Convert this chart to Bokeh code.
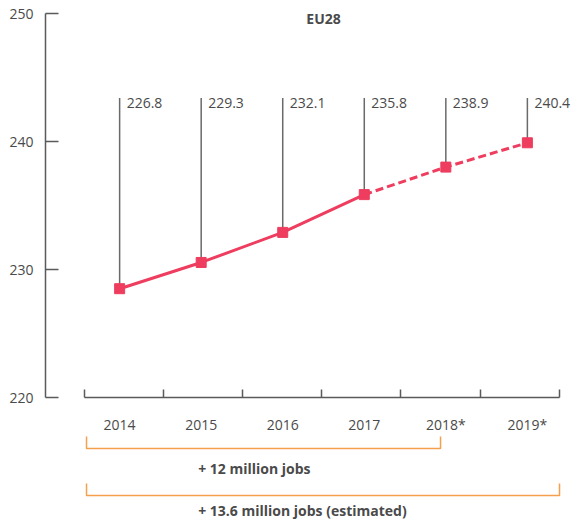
from bokeh.plotting import figure
from bokeh.models import FixedTicker, Range1d
from bokeh.core.properties import value
from bokeh.embed import file_html
from bokeh.resources import INLINE

# ---- data ----
years = ["2014", "2015", "2016", "2017", "2018*", "2019*"]
employment = [228.5, 230.55, 232.9, 235.85, 238.0, 239.9]   # plotted (millions)
value_labels = ["226.8", "229.3", "232.1", "235.8", "238.9", "240.4"]
y_ticks = [220, 230, 240, 250]
chart_title = "EU28"
bracket_texts = ["+ 12 million jobs", "+ 13.6 million jobs (estimated)"]
bracket_end_index = [4, 5]
estimate_start = 3  # series becomes dashed after 2017

# ---- layout constants (positions / styles) ----
FONT = "Open Sans"
TXT = "#4a4a4a"
AXIS = "#5a5a5a"
RED = "#ee3d5e"
ORANGE = "#f5a04c"
LABEL_TOP = 243.4
BR_Y = [216.02, 212.34]
BR_TOP = [216.95, 213.28]
BR_TEXT_Y = [214.45, 211.2]
BR_X0 = -0.406
BR_X1_OFF = [-0.065, 0.394]
BOUNDARY_TICKS = [-0.431, 0.538, 1.506, 2.475, 3.444, 4.425, 5.394]

x = list(range(len(years)))

p = figure(width=571, height=521,
           x_range=Range1d(-0.909, 5.541), y_range=Range1d(210.3125, 250),
           toolbar_location=None, output_backend="svg",
           min_border_left=45, min_border_right=0, min_border_top=13, min_border_bottom=0)
p.outline_line_color = None
p.xgrid.visible = False
p.ygrid.visible = False
p.background_fill_color = "white"
p.border_fill_color = "white"

# y axis
ya = p.yaxis[0]
ya.ticker = FixedTicker(ticks=y_ticks)
ya.bounds = (220, 250)
ya.major_tick_in = 13
ya.major_tick_out = 0
ya.minor_tick_line_color = None
ya.axis_line_color = AXIS
ya.axis_line_width = 1.5
ya.major_tick_line_color = AXIS
ya.major_tick_line_width = 1.5
ya.major_label_standoff = 12
ya.major_label_text_font = FONT
ya.major_label_text_font_size = "14px"
ya.major_label_text_color = TXT

# x axis at y=220: year labels as major ticks, separators as minor ticks
xa = p.xaxis[0]
xa.fixed_location = 220
xa.ticker = FixedTicker(ticks=x, minor_ticks=BOUNDARY_TICKS)
xa.major_label_overrides = {i: years[i] for i in x}
xa.bounds = (BOUNDARY_TICKS[0], BOUNDARY_TICKS[-1])
xa.major_tick_in = 0
xa.major_tick_out = 0
xa.minor_tick_in = 8
xa.minor_tick_out = 0
xa.minor_tick_line_color = AXIS
xa.minor_tick_line_width = 1.5
xa.axis_line_color = AXIS
xa.axis_line_width = 1.5
xa.major_label_standoff = 17
xa.major_label_text_font = FONT
xa.major_label_text_font_size = "14px"
xa.major_label_text_color = TXT

# drop lines and value labels
p.segment(x0=x, y0=employment, x1=x, y1=[LABEL_TOP] * len(x),
          line_color="#6a6a6a", line_width=1.5)
p.text(x=x, y=[LABEL_TOP] * len(x), text=value_labels, x_offset=7,
       text_baseline="top", text_align="left",
       text_font=value(FONT), text_font_size="14px", text_color=TXT)

# series
p.line(x[:estimate_start + 1], employment[:estimate_start + 1],
       line_color=RED, line_width=3)
p.line(x[estimate_start:], employment[estimate_start:],
       line_color=RED, line_width=3, line_dash="8 4")
p.scatter(x, employment, marker="square", size=10,
          fill_color=RED, line_color=RED)

# title
p.text(x=[(x[0] + x[-1]) / 2], y=[249.6], text=[chart_title],
       text_align="center", text_baseline="middle",
       text_font=value(FONT), text_font_size="14px", text_font_style="bold",
       text_color=TXT)

# brackets
for i, txt in enumerate(bracket_texts):
    x1 = bracket_end_index[i] + BR_X1_OFF[i]
    p.line([BR_X0, BR_X0, x1, x1], [BR_TOP[i], BR_Y[i], BR_Y[i], BR_TOP[i]],
           line_color=ORANGE, line_width=1.5)
    p.text(x=[x[1]], y=[BR_TEXT_Y[i]], text=[txt], x_offset=-3,
           text_align="left", text_baseline="middle",
           text_font=value(FONT), text_font_size="14px", text_font_style="bold",
           text_color=TXT)

open("out.html", "w").write(file_html(p, INLINE))
